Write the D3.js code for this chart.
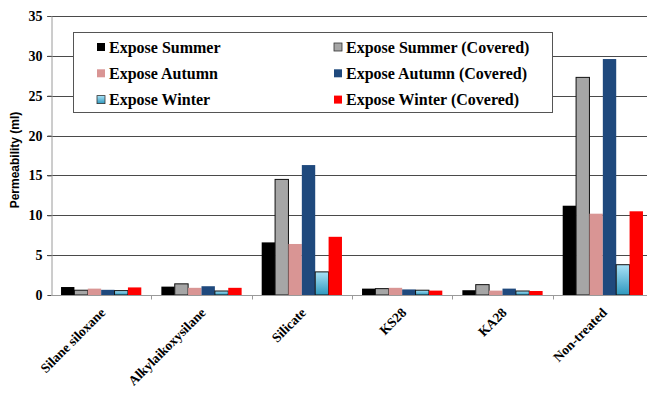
<!DOCTYPE html>
<html>
<head>
<meta charset="utf-8">
<script src="https://cdn.jsdelivr.net/npm/d3@7"></script>
<style>
body { margin: 0; background: #fff; }
svg { display: block; }
</style>
</head>
<body>
<svg width="647" height="397"></svg>
<script>
var categories = ["Silane siloxane", "Alkylaikoxysilane", "Silicate", "KS28", "KA28", "Non-treated"];
var seriesNames = ["Expose Summer", "Expose Summer (Covered)", "Expose Autumn",
    "Expose Autumn (Covered)", "Expose Winter", "Expose Winter (Covered)"];
var exposeSummer = [1.0, 1.05, 6.6, 0.8, 0.6, 11.2];
var exposeSummerCovered = [0.6, 1.4, 14.5, 0.8, 1.3, 27.3];
var exposeAutumn = [0.8, 0.9, 6.4, 0.9, 0.55, 10.2];
var exposeAutumnCovered = [0.65, 1.1, 16.3, 0.7, 0.8, 29.6];
var exposeWinter = [0.55, 0.5, 2.9, 0.6, 0.5, 3.8];
var exposeWinterCovered = [0.95, 0.9, 7.3, 0.55, 0.5, 10.5];
var yTicks = [0, 5, 10, 15, 20, 25, 30, 35];

var seriesValues = [exposeSummer, exposeSummerCovered, exposeAutumn,
    exposeAutumnCovered, exposeWinter, exposeWinterCovered];
var fills = ["#000000", "#a6a6a6", "#d99594", "#1f497d", "url(#winterGrad)", "#ff0000"];
var strokes = ["none", "#111", "none", "none", "#111", "none"];

var svg = d3.select("svg"),
    plotLeft = 51, plotRight = 653, plotTop = 16, plotBottom = 295;

var defs = svg.append("defs");
var grad = defs.append("linearGradient").attr("id", "winterGrad")
    .attr("x1", 0).attr("y1", 0).attr("x2", 0).attr("y2", 1);
grad.append("stop").attr("offset", "0%").attr("stop-color", "#a9e2f7");
grad.append("stop").attr("offset", "100%").attr("stop-color", "#2e98be");

var x0 = d3.scaleBand().domain(categories).range([plotLeft, plotRight]);
var x1 = d3.scaleBand().domain(d3.range(seriesNames.length))
    .range([0, x0.bandwidth()]).paddingOuter(0.75);
var y = d3.scaleLinear().domain([0, 35]).range([plotBottom, plotTop]);

// gridlines
svg.append("g").selectAll("line")
    .data(yTicks.slice(1))
    .enter().append("line")
    .attr("x1", plotLeft - 4).attr("x2", plotRight)
    .attr("y1", function(d) { return Math.round(y(d)) + 0.5; })
    .attr("y2", function(d) { return Math.round(y(d)) + 0.5; })
    .attr("stroke", "#4a4a4a").attr("stroke-width", 1);

// y axis
var yAxis = svg.append("g")
    .attr("transform", "translate(" + (plotLeft + 0.5) + ",0)")
    .call(d3.axisLeft(y).tickValues(yTicks).tickSize(4).tickPadding(5));
yAxis.select(".domain").attr("stroke", "#9a9a9a");
yAxis.selectAll(".tick line").attr("stroke", "#4a4a4a");
yAxis.selectAll("text")
    .attr("font-family", "Liberation Serif, Times New Roman, serif")
    .attr("font-weight", "bold").attr("font-size", 14).attr("fill", "#000");

// bars
var groups = svg.append("g").selectAll("g")
    .data(categories)
    .enter().append("g")
    .attr("transform", function(d) { return "translate(" + x0(d) + ",0)"; });

groups.selectAll("rect")
    .data(function(d, i) {
        return seriesValues.map(function(s, k) { return { k: k, v: s[i] }; });
    })
    .enter().append("rect")
    .attr("x", function(d) { return x1(d.k); })
    .attr("width", x1.bandwidth())
    .attr("y", function(d) { return y(d.v); })
    .attr("height", function(d) { return plotBottom - y(d.v); })
    .attr("fill", function(d) { return fills[d.k]; })
    .attr("stroke", function(d) { return strokes[d.k]; })
    .attr("stroke-width", 1);

// x axis
var xAxis = svg.append("g")
    .attr("transform", "translate(0," + (plotBottom + 0.5) + ")");
xAxis.append("line").attr("x1", plotLeft).attr("x2", plotRight)
    .attr("stroke", "#9a9a9a");
xAxis.selectAll(".sep")
    .data(categories)
    .enter().append("line")
    .attr("class", "sep")
    .attr("x1", function(d) { return Math.round(x0(d) + x0.bandwidth()) + 0.5; })
    .attr("x2", function(d) { return Math.round(x0(d) + x0.bandwidth()) + 0.5; })
    .attr("y1", 0).attr("y2", 4)
    .attr("stroke", "#9a9a9a");
xAxis.selectAll(".lbl")
    .data(categories)
    .enter().append("text")
    .attr("class", "lbl")
    .attr("transform", function(d) {
        return "translate(" + (x0(d) + x0.bandwidth() / 2 + 5) + ",18) rotate(-45)";
    })
    .attr("text-anchor", "end")
    .attr("font-family", "Liberation Serif, Times New Roman, serif")
    .attr("font-weight", "bold").attr("font-size", 13.5)
    .text(function(d) { return d; });

// y label
svg.append("text")
    .attr("transform", "translate(19,160) rotate(-90)")
    .attr("text-anchor", "middle")
    .attr("font-family", "Liberation Sans, Arial, sans-serif")
    .attr("font-weight", "bold").attr("font-size", 12)
    .text("Permeability (ml)");

// legend
var legend = svg.append("g");
legend.append("rect")
    .attr("x", 73.5).attr("y", 32.5).attr("width", 479).attr("height", 80)
    .attr("fill", "#fff").attr("stroke", "#555");
var items = legend.selectAll(".item")
    .data(d3.range(seriesNames.length))
    .enter().append("g")
    .attr("class", "item")
    .attr("transform", function(k) {
        var col = k % 2, row = Math.floor(k / 2);
        return "translate(" + (col ? 334 : 97) + "," + (47 + row * 26.3) + ")";
    });
items.append("rect")
    .attr("x", 0).attr("y", -4).attr("width", 8).attr("height", 8)
    .attr("fill", function(k) { return fills[k]; })
    .attr("stroke", function(k) { return strokes[k] === "none" ? "none" : "#333"; })
    .attr("stroke-width", 0.8);
items.append("text")
    .attr("x", 12).attr("y", 5.5)
    .attr("font-family", "Liberation Serif, Times New Roman, serif")
    .attr("font-weight", "bold").attr("font-size", 16)
    .text(function(k) { return seriesNames[k]; });
</script>
</body>
</html>
